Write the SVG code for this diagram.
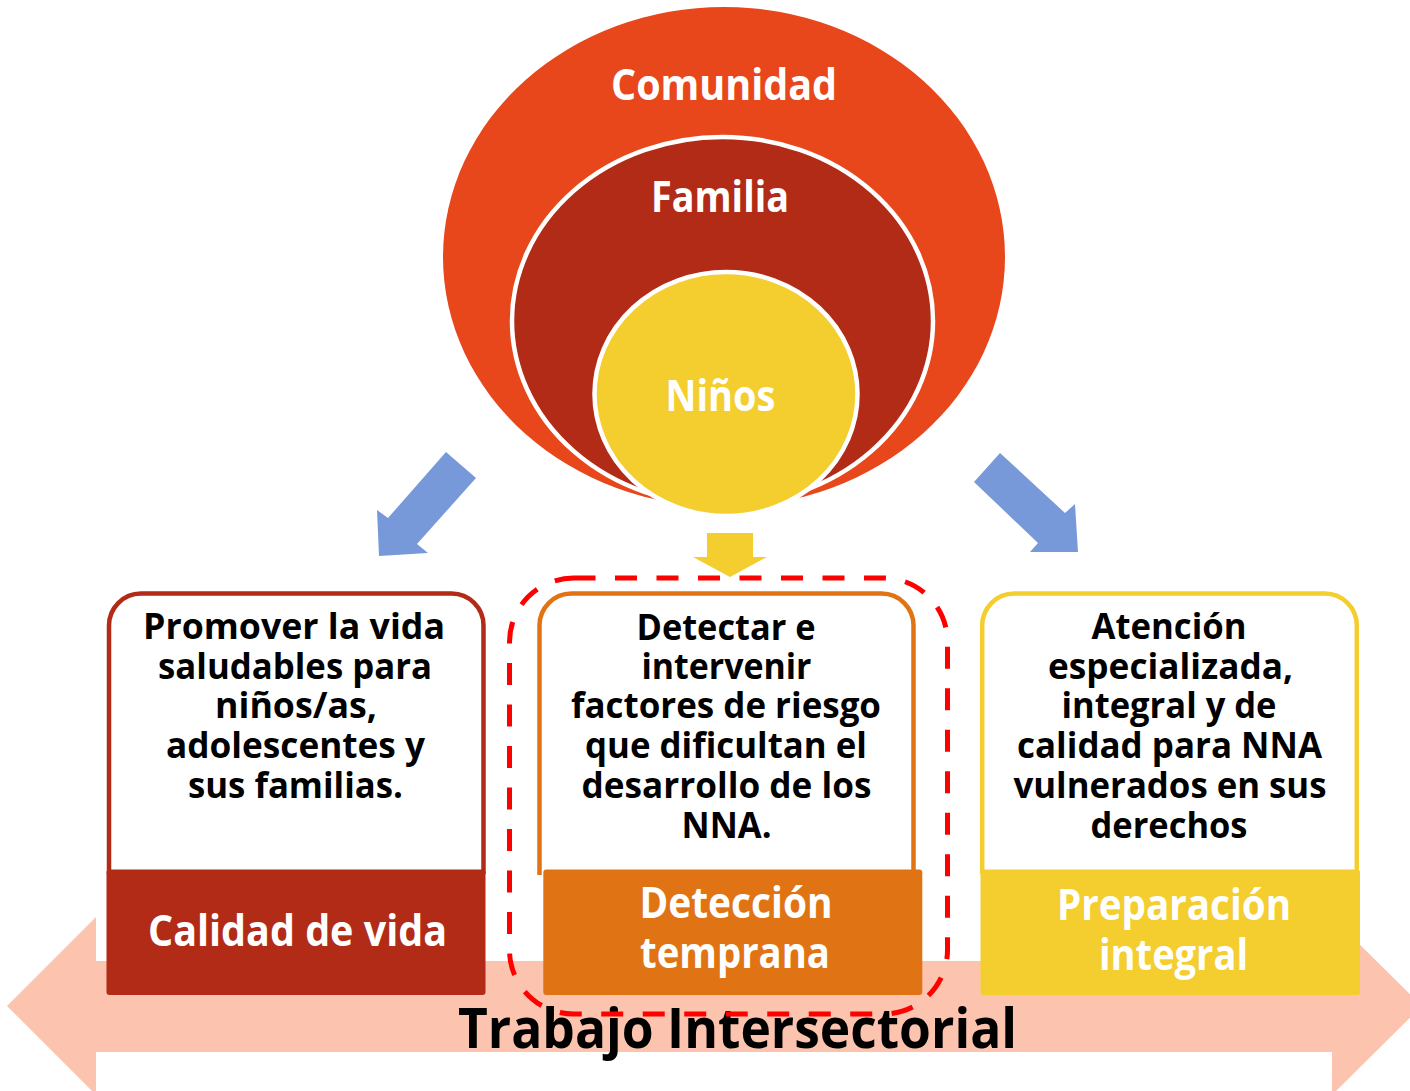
<svg xmlns="http://www.w3.org/2000/svg" width="1410" height="1091" viewBox="0 0 1410 1091">
  <style>
    text { font-family: "Open Sans", "Liberation Sans", sans-serif; font-weight: bold; text-anchor: middle; }
    .lbl { fill: #FFFFFF; font-size: 43px; }
    .body { fill: #000000; font-size: 36px; }
    .title { fill: #000000; font-size: 56px; }
    .blue { fill: #7799D9; }
    .frame { fill: #FFFFFF; stroke-width: 4.5; }
  </style>
  <rect width="1410" height="1091" fill="#FFFFFF"/>

  <g id="trabajo-intersectorial">
    <polygon points="7,1006 96,917 96,961 1332,961 1332,917 1422,1006 1332,1095 1332,1052 96,1052 96,1095" fill="#FCC4AF"/>
  </g>

  <g id="circulos">
    <g id="comunidad">
      <ellipse cx="724" cy="257" rx="281" ry="250" fill="#E8471C"/>
      <text class="lbl" x="724" y="100" textLength="226" lengthAdjust="spacingAndGlyphs">Comunidad</text>
    </g>
    <g id="familia">
      <ellipse cx="722.5" cy="321" rx="210.5" ry="184" fill="#B12B17" stroke="#FFFFFF" stroke-width="4.5"/>
      <text class="lbl" x="720" y="212" textLength="138" lengthAdjust="spacingAndGlyphs">Familia</text>
    </g>
    <g id="ninos">
      <ellipse cx="726" cy="394" rx="131.5" ry="122" fill="#F4CD2F" stroke="#FFFFFF" stroke-width="4.5"/>
      <text class="lbl" x="720.5" y="411" textLength="110" lengthAdjust="spacingAndGlyphs">Niños</text>
    </g>
  </g>

  <g id="conectores">
    <polygon class="blue" points="446,452 476,478 417,544 428,553 379,556 377,510 388,518"/>
    <polygon class="blue" points="1000,453 1065,513 1075,504 1078,552 1030,552 1038,543 974,482"/>
    <polygon points="707,533 753,533 753,557 767,557 730,577 693,557 707,557" fill="#F4CD2F"/>
  </g>

  <g id="calidad-de-vida">
    <path class="frame" stroke="#B12B17" d="M109,874 V626 A32,32 0 0 1 141,593.5 H451 A32,32 0 0 1 483.5,626 V874"/>
    <text class="body" x="294" y="639" textLength="302" lengthAdjust="spacingAndGlyphs">Promover la vida</text>
    <text class="body" x="295" y="679" textLength="274" lengthAdjust="spacingAndGlyphs">saludables para</text>
    <text class="body" x="296" y="718" textLength="162" lengthAdjust="spacingAndGlyphs">niños/as,</text>
    <text class="body" x="295.5" y="758" textLength="259" lengthAdjust="spacingAndGlyphs">adolescentes y</text>
    <text class="body" x="295.5" y="798" textLength="215" lengthAdjust="spacingAndGlyphs">sus familias.</text>
    <rect x="106.5" y="869.5" width="379" height="125.5" rx="3" fill="#B12B17"/>
    <text class="lbl" x="297.5" y="946" textLength="299" lengthAdjust="spacingAndGlyphs">Calidad de vida</text>
  </g>

  <g id="deteccion-temprana">
    <path class="frame" stroke="#E07415" d="M539.5,875 V626 A32,32 0 0 1 571.5,593.5 H881.5 A32,32 0 0 1 913.5,626 V874"/>
    <text class="body" x="726" y="640" textLength="179" lengthAdjust="spacingAndGlyphs">Detectar e</text>
    <text class="body" x="726.5" y="679" textLength="170" lengthAdjust="spacingAndGlyphs">intervenir</text>
    <text class="body" x="726" y="718" textLength="310" lengthAdjust="spacingAndGlyphs">factores de riesgo</text>
    <text class="body" x="726" y="758" textLength="282" lengthAdjust="spacingAndGlyphs">que dificultan el</text>
    <text class="body" x="726.5" y="798" textLength="290" lengthAdjust="spacingAndGlyphs">desarrollo de los</text>
    <text class="body" x="726.5" y="838" textLength="90" lengthAdjust="spacingAndGlyphs">NNA.</text>
    <rect x="543.3" y="869.5" width="379" height="125.5" rx="3" fill="#E07415"/>
    <text class="lbl" x="736" y="918" textLength="193" lengthAdjust="spacingAndGlyphs">Detección</text>
    <text class="lbl" x="735" y="968" textLength="190" lengthAdjust="spacingAndGlyphs">temprana</text>
  </g>

  <g id="preparacion-integral">
    <path class="frame" stroke="#F4CD2F" d="M982.2,874 V626 A32,32 0 0 1 1014.2,593.5 H1324.8 A32,32 0 0 1 1356.8,626 V874"/>
    <text class="body" x="1169" y="639" textLength="155" lengthAdjust="spacingAndGlyphs">Atención</text>
    <text class="body" x="1170.5" y="679" textLength="245" lengthAdjust="spacingAndGlyphs">especializada,</text>
    <text class="body" x="1169" y="718" textLength="215" lengthAdjust="spacingAndGlyphs">integral y de</text>
    <text class="body" x="1169.5" y="758" textLength="305" lengthAdjust="spacingAndGlyphs">calidad para NNA</text>
    <text class="body" x="1170" y="798" textLength="313" lengthAdjust="spacingAndGlyphs">vulnerados en sus</text>
    <text class="body" x="1169" y="838" textLength="157" lengthAdjust="spacingAndGlyphs">derechos</text>
    <rect x="980.5" y="869.5" width="379.5" height="125.5" rx="3" fill="#F4CD2F"/>
    <text class="lbl" x="1174" y="920" textLength="234" lengthAdjust="spacingAndGlyphs">Preparación</text>
    <text class="lbl" x="1173.5" y="970" textLength="149" lengthAdjust="spacingAndGlyphs">integral</text>
  </g>

  <g id="titulo">
    <text class="title" x="737.5" y="1048" textLength="559" lengthAdjust="spacingAndGlyphs">Trabajo Intersectorial</text>
  </g>

  <g id="resaltado">
    <rect x="509.5" y="578" width="438" height="436" rx="64" ry="64" fill="none" stroke="#FF0000" stroke-width="5" stroke-dasharray="22 19.5"/>
  </g>
</svg>
